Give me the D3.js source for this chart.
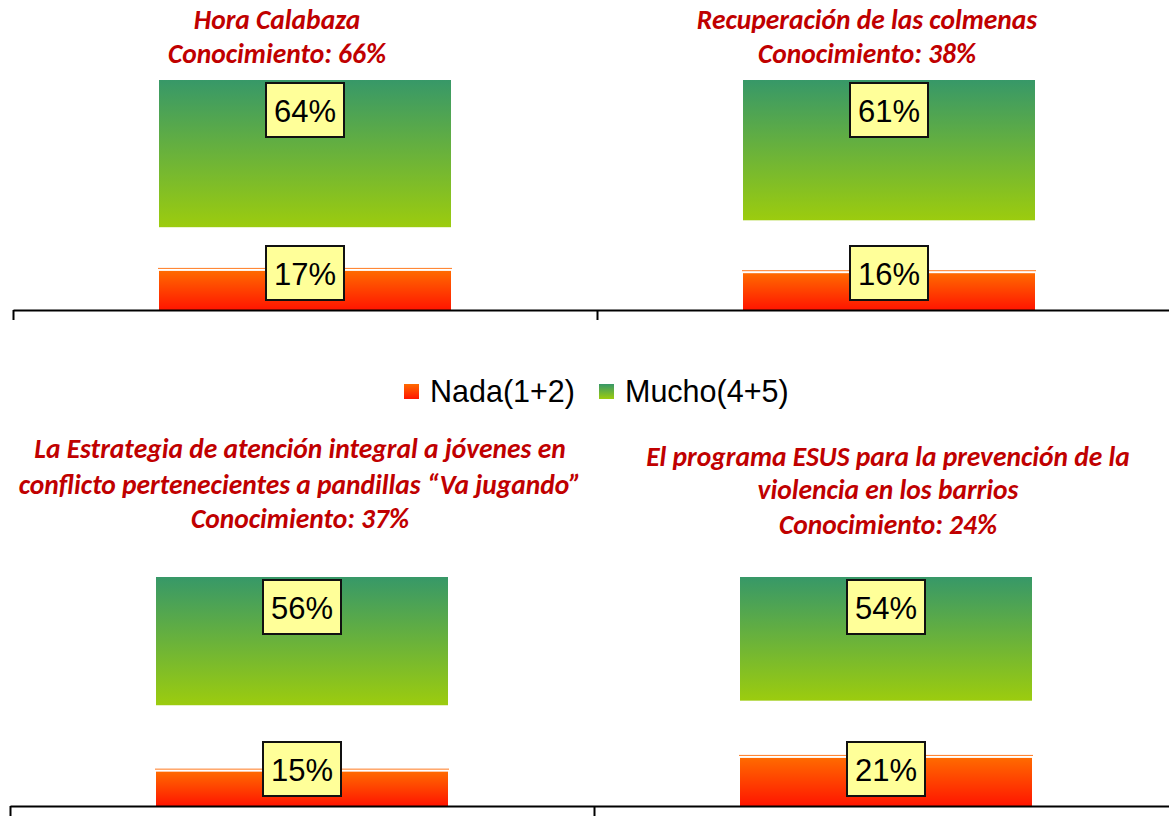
<!DOCTYPE html>
<html><head><meta charset="utf-8">
<script src="https://cdn.jsdelivr.net/npm/d3@7"></script>
<style>body{margin:0;background:#fff}svg{display:block}</style>
</head><body>
<script>
const titles = [
  ["Hora Calabaza", "Conocimiento: 66%"],
  ["Recuperación de las colmenas", "Conocimiento: 38%"],
  ["La Estrategia de atención integral a jóvenes en", "conflicto pertenecientes a pandillas “Va jugando”", "Conocimiento: 37%"],
  ["El programa ESUS para la prevención de la", "violencia en los barrios", "Conocimiento: 24%"]
];
const nada = [17, 16, 15, 21];
const mucho = [64, 61, 56, 54];
const seriesNames = ["Nada(1+2)", "Mucho(4+5)"];

const W = 1169, H = 816;
const svg = d3.select("body").append("svg").attr("width", W).attr("height", H);
const defs = svg.append("defs");
const gG = defs.append("linearGradient").attr("id","gGreen").attr("x1",0).attr("y1",0).attr("x2",0).attr("y2",1);
gG.append("stop").attr("offset","0%").attr("stop-color","#379868");
gG.append("stop").attr("offset","100%").attr("stop-color","#9CCC0E");
const gO = defs.append("linearGradient").attr("id","gOrange").attr("x1",0).attr("y1",0).attr("x2",0).attr("y2",1);
gO.append("stop").attr("offset","0%").attr("stop-color","#FF6A00");
gO.append("stop").attr("offset","100%").attr("stop-color","#FF1500");

const titleBase = [[29, 63], [29, 63], [458, 494, 528], [466, 499, 534]];
const titleCx = [277, 867, 300, 888];
const rows = [
  {axisX: 13, base: 310, top: 80},
  {axisX: 10, base: 806, top: 577}
];
const PW = 584;

titles.forEach((t, i) => {
  const row = rows[Math.floor(i/2)];
  const col = i % 2;
  const x0 = row.axisX + col*PW;
  const x = d3.scaleBand().domain(["c"]).range([x0, x0+PW]).paddingInner(0).paddingOuter(0.5);
  const y = d3.scaleLinear().domain([0,100]).range([row.base, row.top]);
  const g = svg.append("g");
  const bx = x("c"), bw = x.bandwidth(), cx = bx + bw/2;

  // Nada (bottom)
  const nTop = y(nada[i]);
  g.append("line").attr("x1", bx-1).attr("x2", bx+bw+1).attr("y1", nTop-2.5).attr("y2", nTop-2.5)
    .attr("stroke","#FF7A20").attr("stroke-width",1);
  g.append("rect").attr("x", bx).attr("y", nTop).attr("width", bw).attr("height", y(0)-nTop)
    .attr("fill","url(#gOrange)");
  // Mucho (top of stack)
  const mTop = y(100), mBot = y(100 - mucho[i]);
  g.append("rect").attr("x", bx).attr("y", mTop).attr("width", bw).attr("height", mBot-mTop)
    .attr("fill","url(#gGreen)");

  // labels
  const boxW = 78, boxH = 54;
  const lab = (cy, txt) => {
    g.append("rect").attr("x", cx-boxW/2).attr("y", cy-boxH/2).attr("width", boxW).attr("height", boxH)
      .attr("fill","#FFFF99").attr("stroke","#111").attr("stroke-width",2);
    g.append("text").attr("x", cx).attr("y", cy+12).attr("text-anchor","middle")
      .attr("font-family","Liberation Sans, Arial, sans-serif").attr("font-size",31).attr("fill","#000").text(txt);
  };
  lab(mTop + 3 + boxH/2, mucho[i] + "%");
  lab(row.base - 10 - boxH/2, nada[i] + "%");

  // title
  t.forEach((line, k) => {
    svg.append("text").attr("x", titleCx[i]).attr("y", titleBase[i][k]).attr("text-anchor","middle")
      .attr("font-family","Carlito, Lato, 'Open Sans', sans-serif").attr("font-weight","bold").attr("font-style","italic")
      .attr("font-size",27.5).attr("fill","#C00000").text(line);
  });
});

// axes
rows.forEach(row => {
  const ax = d3.scaleLinear().domain([0,2]).range([row.axisX, row.axisX + 2*PW]);
  const a = svg.append("g").attr("transform", `translate(0,${row.base})`)
    .call(d3.axisBottom(ax).tickValues([0,1,2]).tickFormat("").tickSize(10).tickSizeOuter(0));
  a.select(".domain").attr("stroke","#000").attr("stroke-width",2);
  a.selectAll(".tick line").attr("stroke","#000").attr("stroke-width",2);
});

// legend
const leg = svg.append("g");
const legItems = [{name: seriesNames[0], fill:"url(#gOrange)", x:404, tx:430},{name: seriesNames[1], fill:"url(#gGreen)", x:599, tx:625}];
legItems.forEach(d => {
  leg.append("rect").attr("x", d.x).attr("y", 384).attr("width", 15).attr("height", 15).attr("fill", d.fill);
  leg.append("text").attr("x", d.tx).attr("y", 402).attr("font-family","Liberation Sans, Arial, sans-serif")
    .attr("font-size",30.5).attr("fill","#000").text(d.name);
});
</script>
</body></html>
